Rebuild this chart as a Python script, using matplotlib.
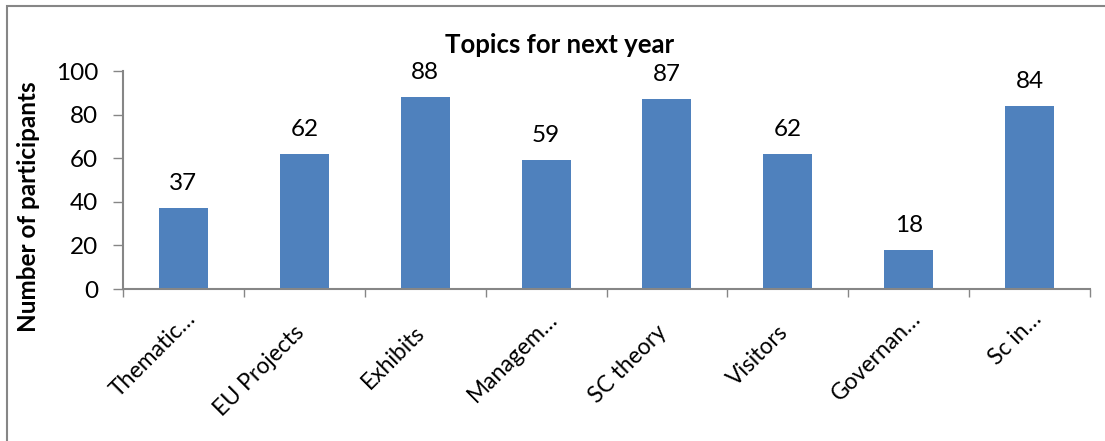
import matplotlib.pyplot as plt
from matplotlib.patches import Rectangle

topics = ['Thematic…', 'EU Projects', 'Exhibits', 'Managem…', 'SC theory',
          'Visitors', 'Governan…', 'Sc in…']
participants = [37, 62, 88, 59, 87, 62, 18, 84]

plt.rcParams['font.family'] = ['Lato', 'DejaVu Sans']

W, H = 1105, 441
fig = plt.figure(figsize=(W / 100, H / 100), dpi=100)
ax = fig.add_axes([123 / W, 1 - 289 / H, (1090 - 123) / W, (289 - 71) / H])

x = list(range(len(topics)))
bars = ax.bar(x, participants, width=0.405, color='#4F81BD')
for b, v in zip(bars, participants):
    ax.annotate(str(v), (b.get_x() + b.get_width() / 2, v), xytext=(0, 13),
                textcoords='offset points', ha='center', va='baseline', fontsize=17.5)

ax.set_xlim(-0.5, len(topics) - 0.5)
ax.set_ylim(0, 100)
ax.set_yticks([0, 20, 40, 60, 80, 100])
ax.tick_params(axis='y', labelsize=17.5, length=7, width=1, color='#868686', pad=11)
ax.set_xticks([i - 0.5 for i in range(len(topics) + 1)])
ax.set_xticklabels([])
ax.tick_params(axis='x', length=6, width=1, color='#868686')

# category labels, rotated like the spreadsheet original
for i, t in enumerate(topics):
    if t.endswith('…'):
        off = (6, -19)
    else:
        off = (-2.5, -29)
    ax.annotate(t, (i, 0), xycoords=('data', 'axes fraction'), xytext=off,
                textcoords='offset points', rotation=45, ha='right', va='center',
                rotation_mode='anchor', fontsize=16.5)

for s in ['top', 'right']:
    ax.spines[s].set_visible(False)
for s in ['left', 'bottom']:
    ax.spines[s].set_color('#868686')
    ax.spines[s].set_linewidth(1.5)

fig.text(29 / W, 1 - 207 / H, 'Number of participants', rotation=90, ha='center',
         va='center', fontsize=17.5, fontweight='bold')
fig.text(560 / W, 1 - 53 / H, 'Topics for next year', ha='center', va='baseline',
         fontsize=18.5, fontweight='bold')

fig.patches.append(Rectangle((7 / W, -0.05), 1.2, 1 - 6 / H + 0.05,
                             transform=fig.transFigure, fill=False,
                             edgecolor='#868686', linewidth=1.5))

fig.savefig('out.png', dpi=100)
